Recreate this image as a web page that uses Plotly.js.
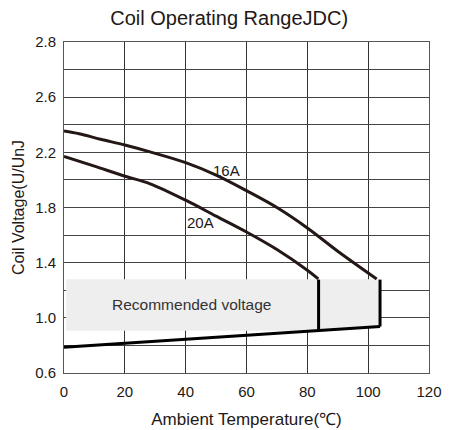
<!DOCTYPE html>
<html>
<head>
<meta charset="utf-8">
<script src="https://cdn.plot.ly/plotly-3.0.1.min.js"></script>
<style>
html,body{margin:0;padding:0;background:#fff;}
#chart{width:452px;height:430px;}
</style>
</head>
<body>
<div id="chart"></div>
<script>
// Data
const temp16A = [0, 5, 12, 20, 28, 40, 50, 60, 70, 80, 90, 102.8];
const volt16A = [2.355, 2.335, 2.295, 2.253, 2.205, 2.125, 2.035, 1.922, 1.80, 1.652, 1.483, 1.282];
const temp20A = [0, 10, 20.4, 28.3, 40, 50, 60, 70, 80, 83.6];
const volt20A = [2.171, 2.1, 2.025, 1.972, 1.853, 1.737, 1.622, 1.495, 1.345, 1.282];
const tempLow = [0, 103.9];
const voltLow = [0.787, 0.937];
const bar20AX = [83.7, 83.7];
const bar20AY = [0.908, 1.277];
const bar16AX = [103.9, 103.9];
const bar16AY = [0.937, 1.277];
const boxX = [0.7, 103.9, 103.9, 83.7, 0.7, 0.7];
const boxY = [1.28, 1.28, 0.937, 0.906, 0.906, 1.28];
const xTicks = [0, 20, 40, 60, 80, 100, 120];
const yTickVals = [0.6, 0.8, 1.0, 1.2, 1.4, 1.6, 1.8, 2.0, 2.2, 2.4, 2.6, 2.8, 3.0];
const yTickText = ['0.6', '', '1.0', '', '1.4', '', '1.8', '', '2.2', '', '2.6', '', '2.8'];

const ink = '#231815';
const font = 'Liberation Sans, Arial, sans-serif';

const traces = [
  {x: boxX, y: boxY, mode: 'lines', fill: 'toself', fillcolor: '#eeeeee',
   line: {width: 0, color: 'rgba(0,0,0,0)'}, hoverinfo: 'skip', showlegend: false},
  {x: temp16A, y: volt16A, mode: 'lines', line: {color: ink, width: 3, shape: 'spline', smoothing: 1}, showlegend: false},
  {x: temp20A, y: volt20A, mode: 'lines', line: {color: ink, width: 3, shape: 'spline', smoothing: 1}, showlegend: false},
  {x: tempLow, y: voltLow, mode: 'lines', line: {color: '#000', width: 3}, showlegend: false},
  {x: bar20AX, y: bar20AY, mode: 'lines', line: {color: '#000', width: 3}, showlegend: false},
  {x: bar16AX, y: bar16AY, mode: 'lines', line: {color: '#000', width: 3}, showlegend: false}
];

const layout = {
  width: 452, height: 430,
  margin: {l: 64, r: 23, t: 42, b: 57},
  paper_bgcolor: '#fff', plot_bgcolor: '#fff',
  font: {family: font, color: ink, size: 15},
  title: {text: 'Coil Operating RangeJDC)', x: 0.507, xanchor: 'center',
          y: 0.957, yanchor: 'middle', yref: 'container',
          font: {family: font, size: 20, color: ink}},
  xaxis: {
    range: [0, 120], tickmode: 'array', tickvals: xTicks,
    showgrid: true, gridcolor: '#333', gridwidth: 1,
    showline: true, linecolor: '#555', linewidth: 1, mirror: true,
    zeroline: false, ticks: '', ticklabelstandoff: 5,
    tickfont: {size: 15, color: ink},
    title: {text: 'Ambient Temperature(℃)', standoff: 14, font: {size: 17, color: ink}}
  },
  yaxis: {
    range: [0.6, 3.0], tickmode: 'array', tickvals: yTickVals, ticktext: yTickText,
    showgrid: true, gridcolor: '#444', gridwidth: 1,
    showline: true, linecolor: '#555', linewidth: 1, mirror: true,
    zeroline: false, ticks: '', ticklabelstandoff: 4,
    tickfont: {size: 15, color: ink},
    title: {text: 'Coil Voltage(U/UnJ', standoff: 6, font: {size: 16, color: ink}}
  },
  annotations: [
    {x: 42, y: 1.095, xref: 'x', yref: 'y', text: 'Recommended voltage', showarrow: false,
     font: {size: 15.5, color: '#333'}},
    {x: 53.3, y: 2.069, xref: 'x', yref: 'y', text: '16A', showarrow: false,
     font: {size: 15, color: ink}},
    {x: 45, y: 1.69, xref: 'x', yref: 'y', text: '20A', showarrow: false,
     font: {size: 15, color: ink}}
  ]
};

Plotly.newPlot('chart', traces, layout, {displayModeBar: false, staticPlot: true});
</script>
</body>
</html>
